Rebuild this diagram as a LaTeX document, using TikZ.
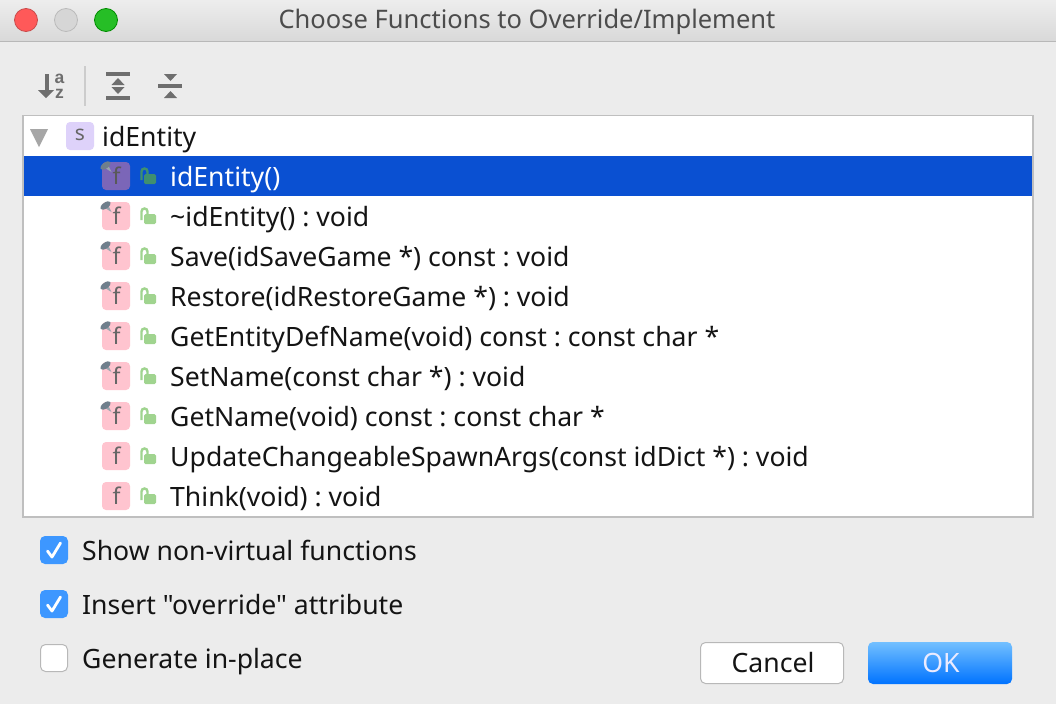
\documentclass[tikz,border=0pt]{standalone}
\usepackage{fontspec}
\newfontfamily\uifont{Noto Sans}
\newfontfamily\azfont{Liberation Sans}
\usetikzlibrary{calc}
\definecolor{winbg}{HTML}{ECECEC}
\definecolor{iconc}{HTML}{6E6E6E}
\definecolor{selbg}{HTML}{0A50D2}
\definecolor{bluec}{HTML}{3D97FF}
\definecolor{fpink}{HTML}{FFC4CF}
\definecolor{fsel}{HTML}{7B66B8}
\definecolor{spurple}{HTML}{DED2FA}
\definecolor{lockg}{HTML}{A0D48F}
\definecolor{locks}{HTML}{3F8F70}
\definecolor{pinc}{HTML}{6F7F8C}
\tikzset{
 x=1pt,y=-1pt,
 lab/.style={anchor=base west,inner sep=0pt,font=\uifont\frenchspacing\fontsize{26.6}{30}\selectfont,text=black!92},
 letter/.style={inner sep=0pt,font=\uifont\fontsize{23}{26}\selectfont,text=#1},
 azletter/.style={inner sep=0pt,align=center,font=\azfont\bfseries\fontsize{17.5}{15}\selectfont,text=iconc},
 check/.style={draw=white,line width=2.8pt,line cap=round,line join=round},
 light/.style={circle,minimum size=23pt,inner sep=0pt,line width=.8pt},
 ticon/.style={fill=iconc,draw=none},
}
\newcommand{\funcicon}[4]{% y, box colour, letter colour, pin(0/1)
 \fill[#2,rounded corners=4pt] (102,#1-14) rectangle (130,#1+14);
 \node[letter=#3] at (116.5,#1) {f};
 \ifnum#4=1
  \fill[pinc!70] (111.5,#1-4) -- (108.5,#1-10) -- (105,#1-8) -- cycle;
  \fill[pinc,rotate around={35:(105.5,#1-10.5)}] (105.5,#1-10.5) ellipse (6pt and 3pt);
 \fi
}
\newcommand{\lockicon}[2]{% y, colour
 \fill[#2,rounded corners=1.5pt] (144,#1-2) rectangle (156,#1+8);
 \draw[#2,line width=2.4pt] (141.5,#1+4) -- (141.5,#1-4.5) arc[start angle=180,end angle=0,radius=3pt] -- (147.5,#1-2);
}
\begin{document}
\begin{tikzpicture}
\useasboundingbox (0,0) rectangle (1056,704);
\fill[winbg] (0,0) rectangle (1056,704);
% title bar
\shade[top color=black!7,bottom color=black!15] (0,0) rectangle (1056,41);
\draw[black!28,line width=1pt] (0,41) -- (1056,41);
\node[light,fill=red!65!white,draw=red!70!black!70] (close) at (26,20) {};
\node[light,fill=black!16,draw=black!27] (mini) at (66,20) {};
\node[light,fill=green!70!black!85!white,draw=green!55!black] (zoom) at (106,20) {};
\node[inner sep=0pt,font=\uifont\fontsize{25.5}{30}\selectfont,text=black!70] (title) at (527,22) {Choose Functions to Override/Implement};
% toolbar
\fill[ticon] (44.5,74) rectangle (48.5,91);
\fill[ticon] (38,90) -- (54,90) -- (46,98) -- cycle;
\node[azletter] (az) at (59.5,86) {a\\z};
\draw[black!20,line width=1.8pt] (85,66) -- (85,106);
\fill[ticon] (106,72) rectangle (130,76);
\fill[ticon] (106,96) rectangle (130,100);
\fill[ticon] (118,78) -- (124.5,85) -- (111.5,85) -- cycle;
\fill[ticon] (118,94) -- (124.5,87) -- (111.5,87) -- cycle;
\fill[ticon] (158,84) rectangle (182,88);
\fill[ticon] (164,74) -- (177,74) -- (170.5,81) -- cycle;
\fill[ticon] (164,98) -- (177,98) -- (170.5,91) -- cycle;
% list
\draw[fill=white,draw=black!25,line width=1.4pt] (23,115.5) rectangle (1033,517);
\fill[selbg] (24,156) rectangle (1032,196);
\fill[black!35] (30,129) -- (48,129) -- (39,147) -- cycle;
\fill[spurple,rounded corners=4pt] (66,122) rectangle (94,150);
\node[inner sep=0pt,font=\uifont\fontsize{21}{22}\selectfont,text=black!60] (s) at (80,135) {s};
\node[lab] (root) at (102,146) {idEntity};
% rows
\funcicon{176}{fsel}{black!65}{1}
\lockicon{176}{locks}
\node[lab,text=white] (r1) at (170,186) {idEntity()};
\foreach \yy/\pin/\txt in {
 216/1/{\textasciitilde idEntity() : void},
 256/1/{Save(idSaveGame *) const : void},
 296/1/{Restore(idRestoreGame *) : void},
 336/1/{GetEntityDefName(void) const : const char *},
 376/1/{SetName(const char *) : void},
 416/1/{GetName(void) const : const char *},
 456/0/{UpdateChangeableSpawnArgs(const idDict *) : void},
 496/0/{Think(void) : void}}{
 \funcicon{\yy}{fpink}{black!60}{\pin}
 \lockicon{\yy}{lockg}
 \node[lab] at (170,\yy+10) {\txt};
}
% checkboxes
\fill[bluec,rounded corners=5pt] (40,536) rectangle (68,564);
\draw[check] (47.5,551) -- (52,557) -- (60.5,543);
\node[lab] (c1) at (82,560) {Show non-virtual functions};
\fill[bluec,rounded corners=5pt] (40,590) rectangle (68,618);
\draw[check] (47.5,605) -- (52,611) -- (60.5,597);
\node[lab] (c2) at (82,614) {Insert "override" attribute};
\draw[fill=white,draw=black!28,line width=1pt,rounded corners=5pt] (40.5,644.5) rectangle (67.5,671.5);
\node[lab] (c3) at (82,668) {Generate in-place};
% buttons
\draw[fill=white,draw=black!28,line width=1pt,rounded corners=5pt] (700.5,642.5) rectangle (843.5,683.5);
\node[lab,anchor=center] (cancel) at (773,663) {Cancel};
\shade[top color=blue!45!cyan!55!white,bottom color=blue!55!cyan,rounded corners=5pt] (868,642) rectangle (1012,684);
\node[lab,anchor=center,text=white!92!blue] (ok) at (941,663) {OK};
\end{tikzpicture}
\end{document}
